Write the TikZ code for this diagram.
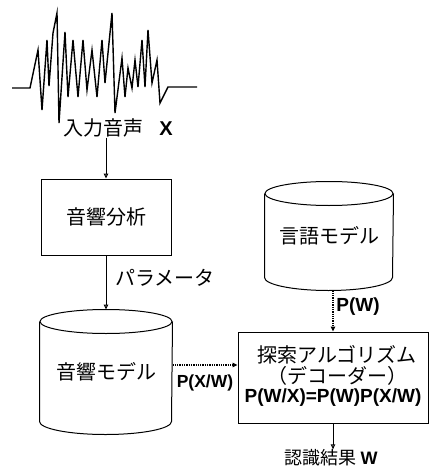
\documentclass[tikz,border=0pt]{standalone}
\usepackage{fontspec}
\setmainfont{Liberation Sans}
\newfontfamily\jp{Noto Sans CJK JP}
\usetikzlibrary{arrows.meta,calc}
\begin{document}
\begin{tikzpicture}[x=1pt,y=-1pt, line width=1pt,
  jl/.style={font=\jp\fontsize{20}{24}\selectfont, inner sep=0pt},
  la/.style={font=\bfseries\fontsize{19}{22}\selectfont, inner sep=0pt},
  box/.style={draw, rectangle, inner sep=0pt},
  cyl/.style={rectangle, inner sep=0pt},
  arr/.style={-{Triangle[open,length=5pt,width=4.5pt]}},
  dotline/.style={dash pattern=on 1.3pt off 1pt, line width=1.3pt}]
\useasboundingbox (0,0) rectangle (429,468);

% waveform
\draw[line width=1.4pt, line join=miter]
 (12,88)--(30,88)--(38,50)--(42,110)--(47,40)--(49,86)--(53,33)--(57,13)--(59,123)
 --(65,32)--(68,97)--(73,40)--(78,97)--(83,40)--(87,90)--(92,50)--(97,97)--(102,40)
 --(105,83)--(112,13)--(115,113)--(122,58)--(125,97)--(128,68)--(132,88)--(135,60)
 --(138,87)--(142,40)--(145,87)--(148,30)--(152,83)--(157,60)--(160,103)--(168,87)--(197,87);

\node[jl] (in) at (118,128) {入力音声\hspace{0.8em}{\fontspec{Liberation Sans}\bfseries X}};

% acoustic analysis box
\node[box, minimum width=130pt, minimum height=76pt] (ana) at (106,217) {};
\node[jl] (anat) at (ana.center) {音響分析};

% acoustic model cylinder
\node[cyl, minimum width=132pt, minimum height=124pt] (am) at (106,372) {};
\draw ($(am.north)+(0,12)$) ellipse [x radius=66pt, y radius=12pt];
\draw ($(am.north west)+(0,12)$) -- ($(am.south west)+(0,-13)$)
      arc[start angle=180, end angle=360, x radius=66pt, y radius=13pt]
      -- ($(am.north east)+(0,12)$);
\node[jl] (amt) at (am.center) {音響モデル};

% language model cylinder
\node[cyl, minimum width=128pt, minimum height=108pt] (lm) at (329,236) {};
\draw ($(lm.north)+(0,12)$) ellipse [x radius=64pt, y radius=12pt];
\draw ($(lm.north west)+(0,12)$) -- ($(lm.south west)+(0,-13)$)
      arc[start angle=180, end angle=360, x radius=64pt, y radius=13pt]
      -- ($(lm.north east)+(0,12)$);
\node[jl] (lmt) at (lm.center) {言語モデル};

% search box
\node[box, minimum width=190pt, minimum height=91pt] (sa) at (333,377.5) {};
\node[jl] (sa1) at (337,355) {探索アルゴリズム};
\node[jl] (sa2) at (337,376) {（デコーダー）};
\node[la] (sa3) at (333,398) {P(W/X)=P(W)P(X/W)};

% result
\node[jl, font=\jp\fontsize{18}{20}\selectfont, anchor=south] (res) at (331,467) {認識結果 {\fontspec{Liberation Sans}\bfseries W}};

% connectors
\draw[arr] (ana.north |- in.south) -- (ana.north);
\draw[arr] (ana.south) -- (am.north);
\node[jl] (par) at (165,278) {パラメータ};

\draw[arr, dotline] (sa.north |- lm.south) -- (sa.north);
\node[la] (pw) at (358,307) {P(W)};

\draw[arr, dotline] ([yshift=7pt]am.east) -- ([yshift=7pt]am.east -| sa.west);
\node[la, font=\bfseries\fontsize{17.5}{20}\selectfont] (pxw) at (205,383) {P(X/W)};

\draw[arr] (sa.south) -- (sa.south |- res.north);
\end{tikzpicture}
\end{document}
